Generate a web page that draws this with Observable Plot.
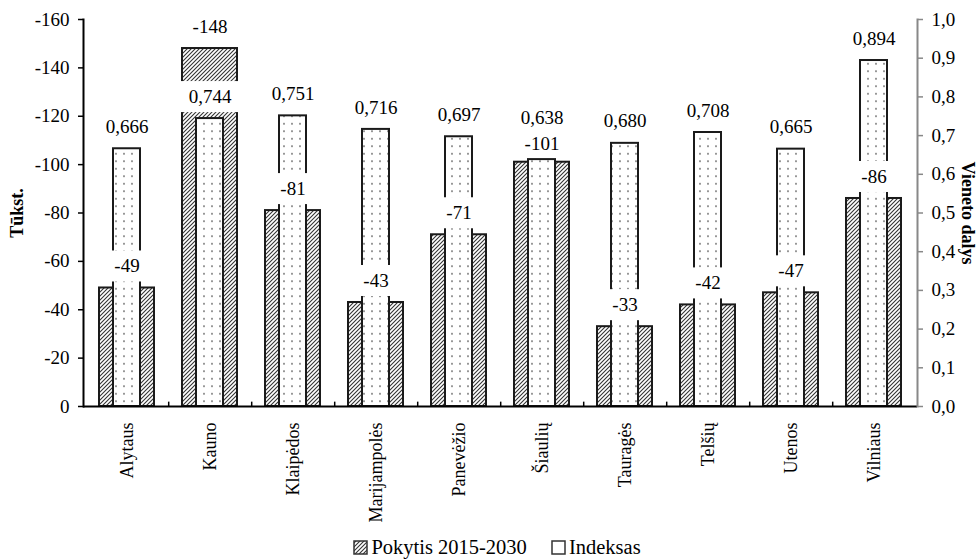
<!DOCTYPE html>
<html>
<head>
<meta charset="utf-8">
<script src="https://cdn.jsdelivr.net/npm/d3@7"></script>
<script src="https://cdn.jsdelivr.net/npm/@observablehq/plot@0.6"></script>
<style>
  html, body { margin: 0; padding: 0; background: #fff; }
  #chart { width: 979px; }
  #chart svg, #chart svg text { font-family: "Liberation Serif", "Times New Roman", serif !important; }
  .legend { display: flex; justify-content: center; align-items: center; height: 25px; padding-left: 15px;
            font-family: "Liberation Serif", serif; font-size: 20.5px; color: #000; }
  .legend .item { display: flex; align-items: center; margin: 0 12px; }
  .legend svg { margin-right: 3px; }
</style>
</head>
<body>
<div id="chart"></div>
<script>
const categories = ["Alytaus", "Kauno", "Klaipėdos", "Marijampolės", "Panevėžio", "Šiaulių", "Tauragės", "Telšių", "Utenos", "Vilniaus"];
const pokytis = [-49, -148, -81, -43, -71, -101, -33, -42, -47, -86];
const indeksas = [0.666, 0.744, 0.751, 0.716, 0.697, 0.638, 0.680, 0.708, 0.665, 0.894];
const leftTicks = [0, -20, -40, -60, -80, -100, -120, -140, -160];
const rightTicks = [0, 0.1, 0.2, 0.3, 0.4, 0.5, 0.6, 0.7, 0.8, 0.9, 1.0];
const seriesNames = ["Pokytis 2015-2030", "Indeksas"];
const yLabelLeft = "Tūkst.";
const yLabelRight = "Vieneto dalys";

const ratio = -160; // index 1.0 ↔ -160 on the left scale
const rows = categories.map((c, i) => ({cat: c, pok: pokytis[i], idx: indeksas[i], idxY: indeksas[i] * ratio}));
const isClose = d => Math.abs(d.idxY - d.pok) < 8;
const fmtIdx = d => d3.format(".3f")(d).replace(".", ",");
const font = "'Liberation Serif', serif";

const W = 979, H = 535;
const mL = 83, mR = 62;
const band = (W - mL - mR) / categories.length;

const chart = Plot.plot({
  width: W,
  height: H,
  marginLeft: mL,
  marginRight: mR,
  marginTop: 19,
  marginBottom: H - 406,
  style: {fontFamily: font, fontSize: "19px", background: "#fff", color: "#000"},
  x: {type: "band", domain: categories, padding: 0},
  y: {domain: [0, -160]},
  marks: [
    Plot.barY(rows, {x: "cat", y: "pok", fill: "url(#hatch)", stroke: "#1a1a1a", strokeWidth: 2, insetLeft: 14, insetRight: 14}),
    Plot.barY(rows, {x: "cat", y: "idxY", fill: "url(#dots)", stroke: "#1a1a1a", strokeWidth: 2, insetLeft: 28, insetRight: 28}),
    // white label boxes
    Plot.barY(rows.filter(d => !isClose(d)), {x: "cat", y1: "pok", y2: "pok", fill: "#fff", insetTop: -37, insetBottom: 6, insetLeft: 12, insetRight: 12}),
    Plot.barY(rows.filter(d => !isClose(d)), {x: "cat", y1: "idxY", y2: "idxY", fill: "#fff", insetTop: -37, insetBottom: 6, insetLeft: 12, insetRight: 12}),
    Plot.barY(rows.filter(isClose), {x: "cat", y1: "pok", y2: "pok", fill: "#fff", insetTop: -33, insetBottom: 4, insetLeft: 12, insetRight: 12}),
    Plot.barY(rows.filter(isClose), {x: "cat", y1: "idxY", y2: "idxY", fill: "#fff", insetTop: -57, insetBottom: 28, insetLeft: 12, insetRight: 12}),
    // axes
    Plot.ruleY([0], {stroke: "#000", strokeWidth: 2}),
    Plot.ruleX(categories.slice(0, -1), {x: d => d, y1: 0, y2: -1.8, dx: band / 2, stroke: "#000", strokeWidth: 1.5}),
    Plot.frame({anchor: "left", stroke: "#000", strokeWidth: 2}),
    Plot.frame({anchor: "right", stroke: "#888", strokeWidth: 2}),
    Plot.axisY(leftTicks, {anchor: "left", tickSize: 5, tickPadding: 9, stroke: "#000", strokeWidth: 1.5, tickFormat: d => String(d), label: null}),
    Plot.axisY(rightTicks.map(t => t * ratio), {anchor: "right", tickSize: 5, tickPadding: 9, stroke: "#888", strokeWidth: 1.5, fill: "#000",
      tickFormat: d => (d / ratio).toFixed(1).replace(".", ","), label: null}),
    Plot.axisX({anchor: "bottom", tickSize: 0, tickPadding: 16, tickRotate: -90, fontSize: 18, label: null}),
    // value labels
    Plot.text(rows.filter(d => !isClose(d)), {x: "cat", y: "pok", text: d => String(d.pok), dy: -22, fontSize: 19}),
    Plot.text(rows.filter(d => !isClose(d)), {x: "cat", y: "idxY", text: d => fmtIdx(d.idx), dy: -22, fontSize: 19}),
    Plot.text(rows.filter(isClose), {x: "cat", y: "pok", text: d => String(d.pok), dy: -18, fontSize: 19}),
    Plot.text(rows.filter(isClose), {x: "cat", y: "idxY", text: d => fmtIdx(d.idx), dy: -42, fontSize: 19}),
    // axis titles
    Plot.text([yLabelLeft], {frameAnchor: "left", text: d => d, dx: -66, rotate: -90, textAnchor: "middle", fontWeight: "bold", fontSize: 18}),
    Plot.text([yLabelRight], {frameAnchor: "right", text: d => d, dx: 50, rotate: 90, textAnchor: "middle", fontWeight: "bold", fontSize: 18})
  ]
});

chart.style.fontFamily = font;
chart.setAttribute("font-family", font);

const defs = d3.select(chart).insert("defs", ":first-child");
const hatch = defs.append("pattern").attr("id", "hatch").attr("patternUnits", "userSpaceOnUse").attr("width", 4).attr("height", 4);
hatch.append("rect").attr("width", 4).attr("height", 4).attr("fill", "#fff");
hatch.append("path").attr("d", "M-1,1 l2,-2 M0,4 l4,-4 M3,5 l2,-2").attr("stroke", "#333").attr("stroke-width", 1.1);
const dots = defs.append("pattern").attr("id", "dots").attr("patternUnits", "userSpaceOnUse").attr("width", 8).attr("height", 7.5);
dots.append("rect").attr("width", 8).attr("height", 7.5).attr("fill", "#fff");
dots.append("circle").attr("cx", 4).attr("cy", 3.7).attr("r", 0.9).attr("fill", "#666");

document.getElementById("chart").appendChild(chart);

const legend = document.createElement("div");
legend.className = "legend";
const fills = ["url(#hatch)", "#fff"];
seriesNames.forEach((name, i) => {
  const item = document.createElement("span");
  item.className = "item";
  item.innerHTML = `<svg width="15" height="15"><rect x="1" y="1" width="13" height="13" fill="${fills[i]}" stroke="#333" stroke-width="1.5"></rect></svg><span></span>`;
  item.querySelector("span").textContent = name;
  legend.appendChild(item);
});
document.getElementById("chart").appendChild(legend);
</script>
</body>
</html>
